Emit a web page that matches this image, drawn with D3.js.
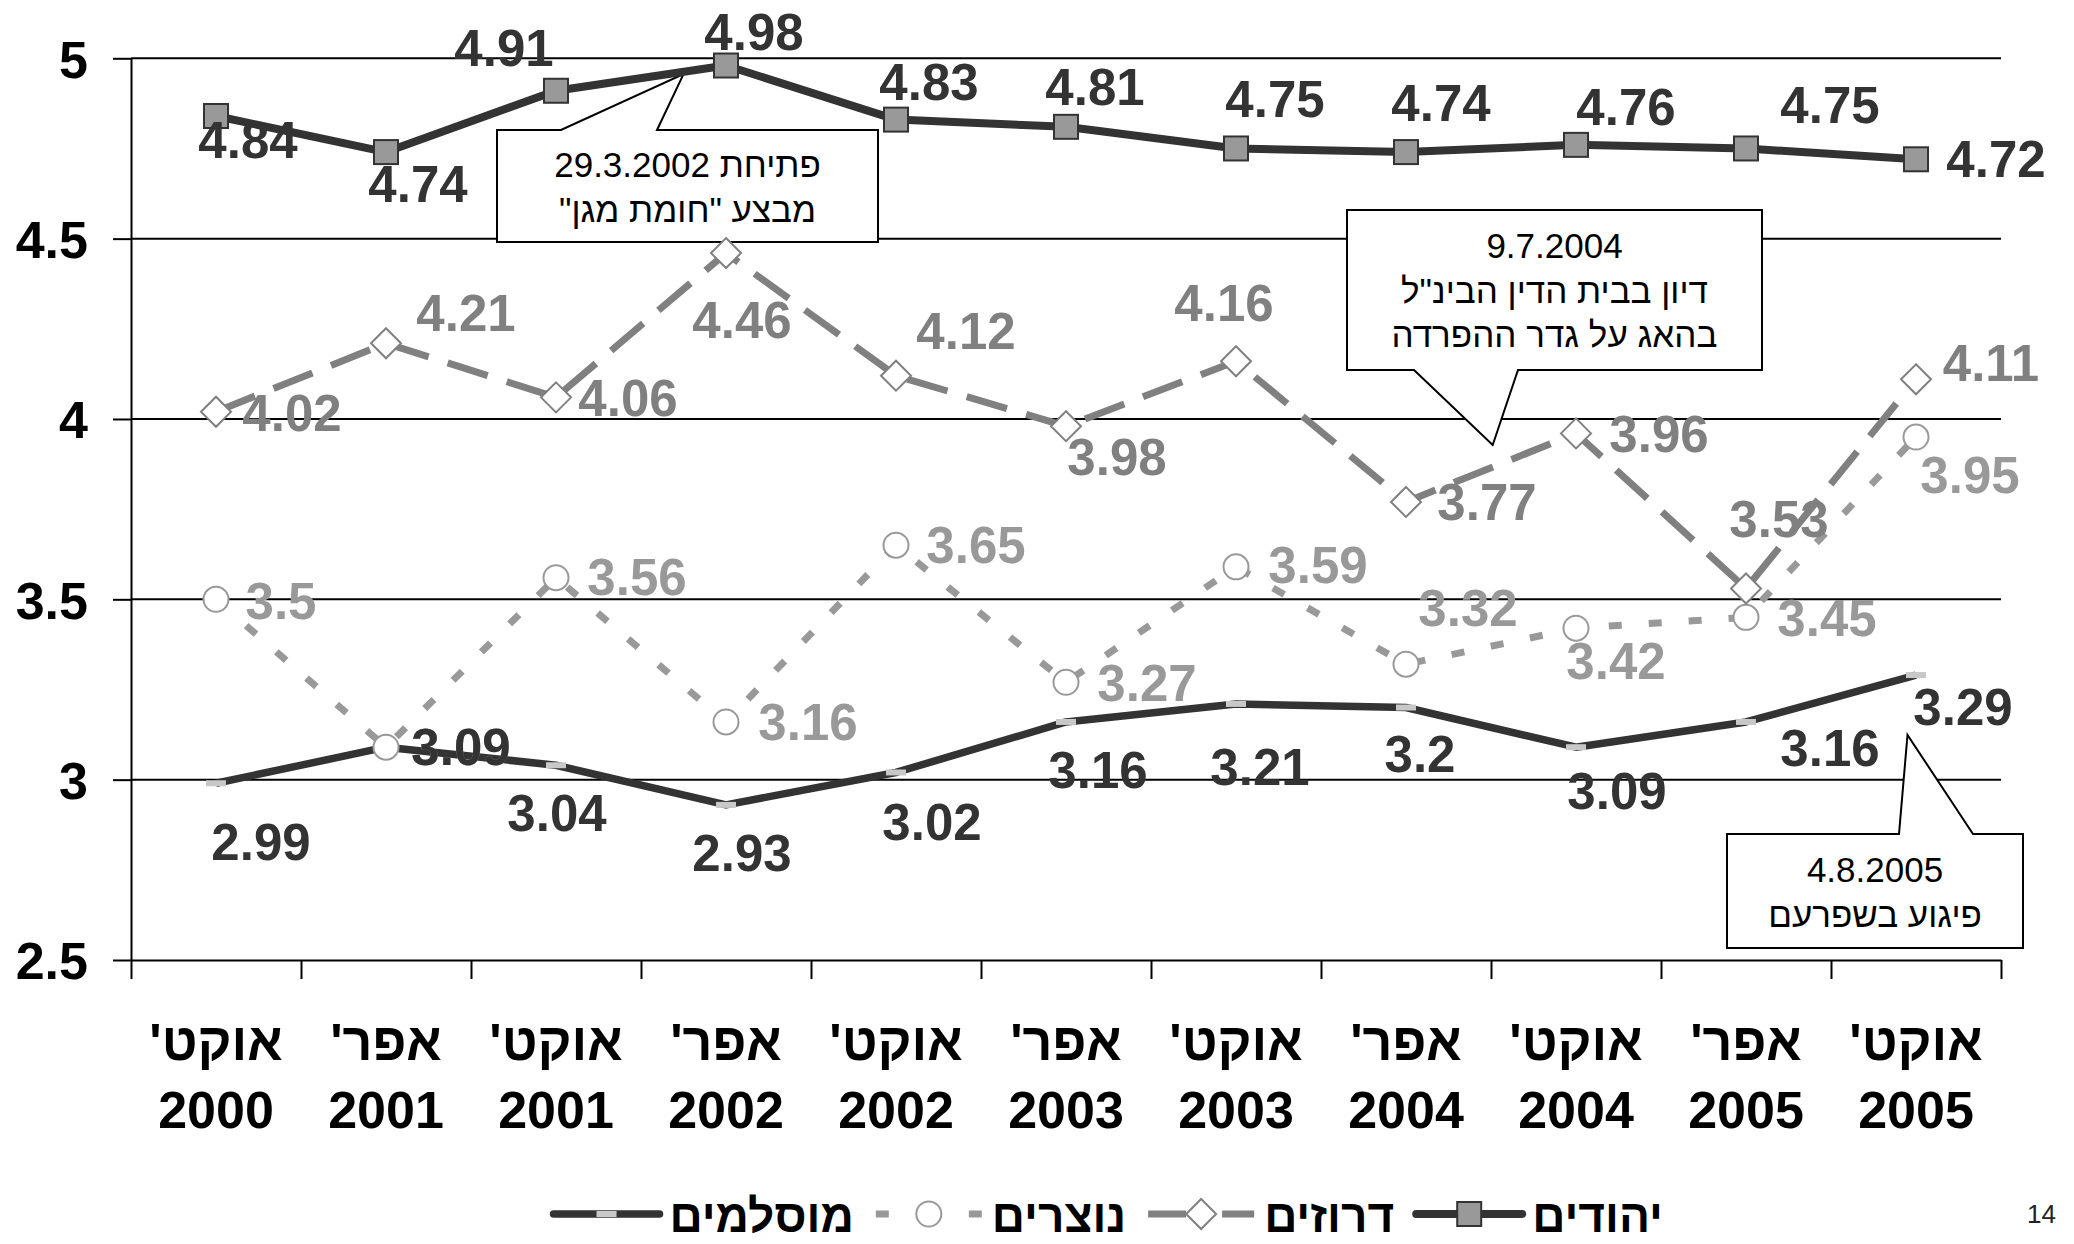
<!DOCTYPE html>
<html><head><meta charset="utf-8">
<script src="https://cdn.jsdelivr.net/npm/d3@7"></script>
<style>
html,body{margin:0;padding:0;background:#fff;}
svg{display:block;}
text{font-family:"Liberation Sans",Arial,"DejaVu Sans",sans-serif;}
</style></head><body>
<svg id="chart" width="2074" height="1244"></svg>
<script>
// ---------- data ----------
const monthLabels = ["אוקט'","אפר'","אוקט'","אפר'","אוקט'","אפר'","אוקט'","אפר'","אוקט'","אפר'","אוקט'"];
const yearLabels  = ["2000","2001","2001","2002","2002","2003","2003","2004","2004","2005","2005"];
const yTickValues = [2.5, 3, 3.5, 4, 4.5, 5];
const yTickLabels = ["2.5","3","3.5","4","4.5","5"];

const jews       = [4.84, 4.74, 4.91, 4.98, 4.83, 4.81, 4.75, 4.74, 4.76, 4.75, 4.72];
const druze      = [4.02, 4.21, 4.06, 4.46, 4.12, 3.98, 4.16, 3.77, 3.96, 3.53, 4.11];
const christians = [3.5, 3.09, 3.56, 3.16, 3.65, 3.27, 3.59, 3.32, 3.42, 3.45, 3.95];
const muslims    = [2.99, 3.09, 3.04, 2.93, 3.02, 3.16, 3.21, 3.2, 3.09, 3.16, 3.29];

const seriesNames = ["יהודים", "דרוזים", "נוצרים", "מוסלמים"];

const callout1Lines = ["פתיחת 29.3.2002", "מבצע \"חומת מגן\""];
const callout2Lines = ["9.7.2004", "דיון בבית הדין הבינ\"ל", "בהאג על גדר ההפרדה"];
const callout3Lines = ["4.8.2005", "פיגוע בשפרעם"];
const pageNumber = "14";

// ---------- layout (label offsets relative to points, px) ----------
const jewsLabelOff = [[32,24],[32,32],[-52,-43],[28,-34],[33,-38],[29,-40],[39,-50],[35,-49],[50,-38],[84,-44],[80,-1]];
const druzeLabelOff = [[76,1],[80,-31],[72,0],[16,67],[70,-45],[51,30],[-12,-59],[81,0],[83,0],[33,-70],[75,-17]];
const christiansLabelOff = [[65,1],[75,-1],[81,-1],[82,0],[80,-1],[81,0],[82,-2],[62,-57],[40,32],[81,0],[54,38]];
const muslimsLabelOff = [[45,58],[75,-1],[1,47],[16,48],[36,49],[32,48],[24,63],[14,46],[41,43],[84,26],[47,32]];

const svg = d3.select("#chart");
const plotLeft = 131, plotRight = 2001, plotTop = 58.3, plotBottom = 960;

const x = d3.scaleBand().domain(d3.range(monthLabels.length)).range([plotLeft, plotRight]).padding(0);
const cx = i => x(i) + x.bandwidth() / 2;
const xIdx = d3.scaleLinear().domain([0, monthLabels.length - 1]).range([cx(0), cx(monthLabels.length - 1)]);
const xb = d3.scaleLinear().domain([0, monthLabels.length]).range([plotLeft, plotRight]);
const y = d3.scaleLinear().domain([2.5, 5]).range([plotBottom, plotTop]);

// gridlines
svg.append("g").selectAll("line").data(yTickValues.filter(v => v > 2.5)).join("line")
  .attr("x1", plotLeft).attr("x2", plotRight).attr("y1", d => y(d)).attr("y2", d => y(d))
  .attr("stroke", "#000").attr("stroke-width", 2);

// y axis
const yAxis = svg.append("g").attr("transform", `translate(${plotLeft},0)`)
  .call(d3.axisLeft(y).tickValues(yTickValues).tickFormat((d, i) => yTickLabels[i]).tickSize(18).tickSizeOuter(0).tickPadding(25));
yAxis.selectAll("path,line").attr("stroke", "#000").attr("stroke-width", 2);
yAxis.selectAll("text").attr("font-size", 52).attr("font-weight", "bold").attr("fill", "#000")
  .attr("font-family", '"Liberation Sans",Arial,sans-serif').attr("dy", "0.36em");

// x axis (ticks at category boundaries)
const xAxis = svg.append("g").attr("transform", `translate(0,${plotBottom})`)
  .call(d3.axisBottom(xb).tickValues(d3.range(monthLabels.length + 1)).tickFormat("").tickSize(19).tickSizeOuter(0));
xAxis.selectAll("path,line").attr("stroke", "#000").attr("stroke-width", 2);

// x labels
const xl = svg.append("g").attr("font-size", 52).attr("font-weight", "bold").attr("fill", "#000").attr("text-anchor", "middle");
xl.selectAll("text.m").data(monthLabels).join("text").attr("class", "m")
  .attr("x", (d, i) => cx(i)).attr("y", 1060).style("direction", "rtl").style("unicode-bidi", "plaintext").text(d => d);
xl.selectAll("text.yr").data(yearLabels).join("text").attr("class", "yr")
  .attr("x", (d, i) => cx(i)).attr("y", 1128).text(d => d);

// callouts
function callout(box, edge, b1, b2, tip, lines, baselines) {
  const [x0, y0, x1, y1] = box;
  let p;
  if (edge === "top") p = `M${x0},${y0}L${b1},${y0}L${tip[0]},${tip[1]}L${b2},${y0}L${x1},${y0}L${x1},${y1}L${x0},${y1}Z`;
  else p = `M${x0},${y0}L${x1},${y0}L${x1},${y1}L${b2},${y1}L${tip[0]},${tip[1]}L${b1},${y1}L${x0},${y1}Z`;
  const g = svg.append("g");
  g.append("path").attr("d", p).attr("fill", "#fff").attr("stroke", "#000").attr("stroke-width", 2);
  g.selectAll("text").data(lines).join("text")
    .attr("x", (x0 + x1) / 2).attr("y", (d, i) => baselines[i])
    .attr("text-anchor", "middle").attr("font-size", 35).attr("fill", "#000")
    .style("direction", "rtl").style("unicode-bidi", "plaintext").text(d => d);
}
callout([497, 130, 878, 242], "top", 561, 657, [xIdx(2.75), y(4.956)], callout1Lines, [177, 222]);
callout([1347, 210, 1762, 370], "bottom", 1414, 1518, [xIdx(7.51), y(3.928)], callout2Lines, [258, 303, 347]);
callout([1727, 834, 2023, 948], "top", 1899, 1973, [xIdx(9.95), y(3.124)], callout3Lines, [882, 927]);

// series
const line = d3.line().x((d, i) => cx(i)).y(d => y(d));
const plot = svg.append("g");

// Muslims
plot.append("path").datum(muslims).attr("d", line).attr("fill", "none").attr("stroke", "#333").attr("stroke-width", 7.5).attr("stroke-linejoin", "round");
plot.append("g").selectAll("rect").data(muslims).join("rect")
  .attr("x", (d, i) => cx(i) - 10).attr("y", d => y(d) - 3).attr("width", 20).attr("height", 6).attr("fill", "#c8c8c8");

// Christians
plot.append("path").datum(christians).attr("d", line).attr("fill", "none").attr("stroke", "#999").attr("stroke-width", 7).attr("stroke-dasharray", "13,27");
plot.append("g").selectAll("circle").data(christians).join("circle")
  .attr("cx", (d, i) => cx(i)).attr("cy", d => y(d)).attr("r", 12.5).attr("fill", "#fff").attr("stroke", "#999").attr("stroke-width", 2);

// Druze
plot.append("path").datum(druze).attr("d", line).attr("fill", "none").attr("stroke", "#808080").attr("stroke-width", 7).attr("stroke-dasharray", "42,20");
plot.append("g").selectAll("path").data(druze).join("path")
  .attr("d", (d, i) => { const X = cx(i), Y = y(d); return `M${X},${Y - 15}L${X + 15},${Y}L${X},${Y + 15}L${X - 15},${Y}Z`; })
  .attr("fill", "#fff").attr("stroke", "#808080").attr("stroke-width", 2);

// Jews
plot.append("path").datum(jews).attr("d", line).attr("fill", "none").attr("stroke", "#333").attr("stroke-width", 8).attr("stroke-linejoin", "round");
plot.append("g").selectAll("rect").data(jews).join("rect")
  .attr("x", (d, i) => cx(i) - 12).attr("y", d => y(d) - 12).attr("width", 24).attr("height", 24)
  .attr("fill", "#999").attr("stroke", "#333").attr("stroke-width", 2);

// data labels
function labels(data, off, color) {
  svg.append("g").selectAll("text").data(data).join("text")
    .attr("x", (d, i) => cx(i) + off[i][0]).attr("y", (d, i) => y(d) + off[i][1])
    .attr("dy", "0.36em").attr("text-anchor", "middle").attr("font-size", 51).attr("font-weight", "bold")
    .attr("fill", color).text(d => String(d));
}
labels(christians, christiansLabelOff, "#999");
labels(druze, druzeLabelOff, "#808080");
labels(jews, jewsLabelOff, "#333");
labels(muslims, muslimsLabelOff, "#333");

// legend (RTL flow)
const lg = svg.append("g");
const legendY = 1214;
let cursor = 1663;
const symW = 106;
const symbolDraw = [
  (g, x0) => { // Jews
    g.append("line").attr("x1", x0).attr("x2", x0 + symW).attr("y1", legendY).attr("y2", legendY).attr("stroke", "#333").attr("stroke-width", 8).attr("stroke-linecap", "round");
    g.append("rect").attr("x", x0 + symW / 2 - 12).attr("y", legendY - 12).attr("width", 24).attr("height", 24).attr("fill", "#999").attr("stroke", "#333").attr("stroke-width", 2);
  },
  (g, x0) => { // Druze
    g.append("line").attr("x1", x0).attr("x2", x0 + 38).attr("y1", legendY).attr("y2", legendY).attr("stroke", "#808080").attr("stroke-width", 7);
    g.append("line").attr("x1", x0 + 74).attr("x2", x0 + symW).attr("y1", legendY).attr("y2", legendY).attr("stroke", "#808080").attr("stroke-width", 7);
    const X = x0 + symW / 2;
    g.append("path").attr("d", `M${X},${legendY - 15}L${X + 15},${legendY}L${X},${legendY + 15}L${X - 15},${legendY}Z`).attr("fill", "#fff").attr("stroke", "#808080").attr("stroke-width", 2);
  },
  (g, x0) => { // Christians
    g.append("line").attr("x1", x0).attr("x2", x0 + 13).attr("y1", legendY).attr("y2", legendY).attr("stroke", "#999").attr("stroke-width", 7);
    g.append("line").attr("x1", x0 + symW - 13).attr("x2", x0 + symW).attr("y1", legendY).attr("y2", legendY).attr("stroke", "#999").attr("stroke-width", 7);
    g.append("circle").attr("cx", x0 + symW / 2).attr("cy", legendY).attr("r", 12.5).attr("fill", "#fff").attr("stroke", "#999").attr("stroke-width", 2);
  },
  (g, x0) => { // Muslims
    g.append("line").attr("x1", x0).attr("x2", x0 + symW).attr("y1", legendY).attr("y2", legendY).attr("stroke", "#333").attr("stroke-width", 7.5).attr("stroke-linecap", "round");
    g.append("rect").attr("x", x0 + symW / 2 - 10).attr("y", legendY - 3).attr("width", 20).attr("height", 6).attr("fill", "#c8c8c8");
  }
];
seriesNames.forEach((name, i) => {
  const g = lg.append("g");
  const t = g.append("text").attr("x", cursor).attr("y", 1232).attr("text-anchor", "end")
    .attr("font-size", 46).attr("font-weight", "bold").attr("fill", "#000").text(name);
  const w = t.node().getComputedTextLength();
  const symRight = cursor - w - 10;
  symbolDraw[i](g, symRight - symW);
  cursor = symRight - symW - 22;
});

// page number
svg.append("text").attr("x", 2027).attr("y", 1223).attr("font-size", 26).attr("fill", "#222").text(pageNumber);
</script>
</body></html>
